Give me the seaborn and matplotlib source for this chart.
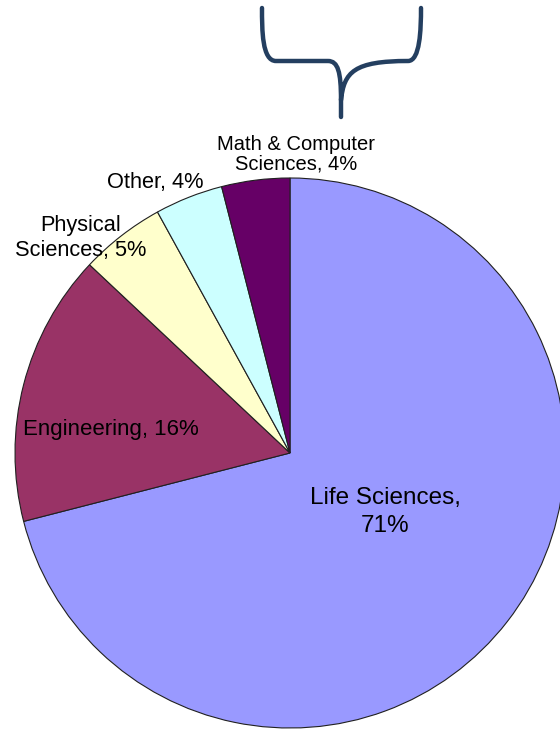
import matplotlib
matplotlib.use("Agg")
import matplotlib.pyplot as plt
from matplotlib.path import Path
from matplotlib.patches import PathPatch
import seaborn as sns

# data
categories = ["Life Sciences", "Engineering", "Physical Sciences", "Other",
              "Math & Computer Sciences"]
shares = [71, 16, 5, 4, 4]
label_texts = ["Life Sciences,\n71%", "Engineering, 16%", "Physical\nSciences, 5%",
               "Other, 4%", "Math & Computer\nSciences, 4%"]
colors = ["#9999FF", "#993366", "#FFFFCC", "#CCFFFF", "#660066"]

sns.set_style("white")
plt.rcParams['font.family'] = ['Liberation Sans', 'DejaVu Sans']

W, H = 560, 729
fig = plt.figure(figsize=(W / 100, H / 100), dpi=100)
ax = fig.add_axes([0, 0, 1, 1])

# pie centre / radius in pixel units (y measured up from the bottom)
cx, cy, r = 290, H - 453, 275
ax.pie(shares, colors=colors, startangle=90, counterclock=False,
       center=(cx, cy), radius=r, frame=True,
       wedgeprops=dict(edgecolor="#202020", linewidth=0.8))
ax.set_xlim(0, W)
ax.set_ylim(0, H)
ax.axis("off")

# label placement (pixel coords from top-left), font size, line spacing
label_pos = [(385, 512), (111, 429.5), (81, 238), (155, 182.5), (296, 154)]
label_size = [17.5, 16, 15.7, 15.7, 14.5]
label_ls = [1.35, 1.0, 1.28, 1.0, 1.0]
for txt, (x, y), fs, ls in zip(label_texts, label_pos, label_size, label_ls):
    ax.text(x, H - y, txt, ha="center", va="center", fontsize=fs,
            linespacing=ls, color="black")

# curly brace above the small slices
def p(x, y):
    return (x, H - y)

verts = [p(262, 8), p(262, 30), p(262, 61), p(276, 61),
         p(328, 61),
         p(338, 61), p(341, 72), p(341, 100),
         p(341, 117),
         p(341, 100), p(344, 72), p(354, 61),
         p(408, 61),
         p(420, 61), p(421, 30), p(421, 8)]
codes = [Path.MOVETO, Path.CURVE4, Path.CURVE4, Path.CURVE4,
         Path.LINETO,
         Path.CURVE4, Path.CURVE4, Path.CURVE4,
         Path.LINETO,
         Path.MOVETO, Path.CURVE4, Path.CURVE4,
         Path.LINETO,
         Path.CURVE4, Path.CURVE4, Path.CURVE4]
ax.add_patch(PathPatch(Path(verts, codes), facecolor="none", edgecolor="#243F60",
                       linewidth=3.2, capstyle="round", joinstyle="round"))

fig.savefig("out.png", dpi=100, facecolor="white")
